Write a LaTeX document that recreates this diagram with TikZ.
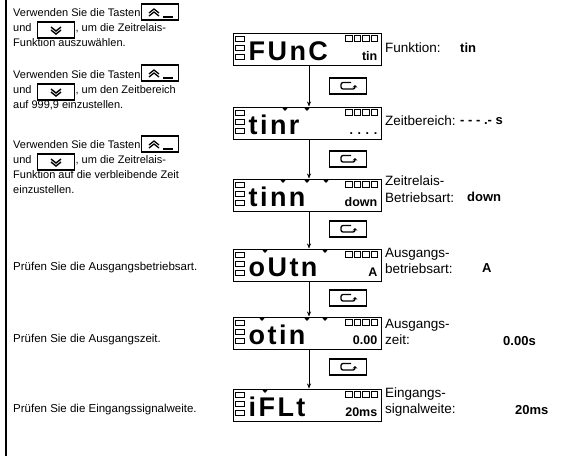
\documentclass[tikz,border=0pt]{standalone}
\usepackage{fontspec}
\setmainfont{Liberation Sans}
\usetikzlibrary{arrows.meta,positioning}

\tikzset{
  lcd/.style={draw,line width=1pt,minimum width=148pt,minimum height=32pt,inner sep=0pt},
  lcdbig/.style={font=\fontsize{27}{27}\selectfont\bfseries\addfontfeature{LetterSpace=9},inner sep=0pt,anchor=base west},
  lcdsmall/.style={font=\fontsize{12.5}{12.5}\selectfont\bfseries,inner sep=0pt,anchor=base east},
  keybox/.style={draw,fill=white,line width=1.2pt,minimum width=37pt,minimum height=16pt,inner sep=0pt},
  note/.style={anchor=north west,align=left,inner sep=0pt,font=\fontsize{11}{15}\selectfont},
  check/.style={anchor=west,inner sep=0pt,font=\fontsize{11.5}{15}\selectfont},
  readout/.style={anchor=west,align=left,inner sep=0pt,font=\fontsize{13.5}{16.5}\selectfont},
  setting/.style={anchor=west,inner sep=0pt,font=\fontsize{13}{13}\selectfont\bfseries},
  flow/.style={-{Stealth[length=5pt,width=4pt]},line width=0.6pt},
  upglyph/.pic={
    \draw[line width=1.3pt] (-11,1) -- (-6,-3) -- (-1,1);
    \draw[line width=1.3pt] (-11,4) -- (-6,0) -- (-1,4);
    \fill (3,3.5) rectangle (13,6);
  },
  downglyph/.pic={
    \draw[line width=1.4pt] (-5,-3) -- (0,1) -- (5,-3);
    \draw[line width=1.4pt] (-5,0) -- (0,4) -- (5,0);
  },
  loopglyph/.pic={
    \draw[line width=1.3pt,rounded corners=2pt,-{Stealth[length=2.5pt,width=4.5pt]}]
      (3,-3.5) -- (-7,-3.5) -- (-7,3) -- (7,3) -- (7,-1);
  },
}

\begin{document}
\begin{tikzpicture}[x=1pt,y=-1pt]
\useasboundingbox (0,0) rectangle (576,456);

\draw[line width=1.6pt] (6,0) -- (6,456);

% instructions on the left
\node[note] (n1) at (13,8) {Verwenden Sie die Tasten,\\und \hspace*{41pt}, um die Zeitrelais-\\Funktion auszuwählen.};
\node[note] (n2) at (13,70) {Verwenden Sie die Tasten,\\und \hspace*{41pt}, um den Zeitbereich\\auf 999,9 einzustellen.};
\node[note] (n3) at (13,140) {Verwenden Sie die Tasten,\\und \hspace*{41pt}, um die Zeitrelais-\\Funktion auf die verbleibende Zeit\\einzustellen.};
\node[check] (n4) at (13,268) {Prüfen Sie die Ausgangsbetriebsart.};
\node[check] (n5) at (13,340) {Prüfen Sie die Ausgangszeit.};
\node[check] (n6) at (13,410) {Prüfen Sie die Eingangssignalweite.};

% keys in the text
\foreach \yu/\yd in {12/30, 73/92, 144/162} {
  \node[keybox] at (160,\yu) {};
  \pic at (160,\yu) {upglyph};
  \node[keybox] at (56,\yd) {};
  \pic at (56,\yd) {downglyph};
}

% displays
\node[lcd] (d1) at (307,49) {};
\node[lcd] (d2) at (307,123) {};
\node[lcd] (d3) at (307,195) {};
\node[lcd] (d4) at (307,265) {};
\node[lcd] (d5) at (307,333) {};
\node[lcd] (d6) at (307,405) {};

\foreach \d in {d1,d2,d3,d4,d5,d6} {
  \foreach \k in {0,1,2}
    \draw[line width=0.6pt] ([shift={(3,4+\k*9)}]\d.north west) rectangle ++(9,5);
  \foreach \k in {0,1,2,3}
    \draw[line width=0.6pt] ([shift={(-36+\k*8.5,3)}]\d.north east) rectangle ++(6.5,6);
}

% marks on top of the digits
\foreach \x/\y in {285/107, 307/107, 283/179, 307/179, 326/179, 265/249, 325/249, 262/317, 307/317, 325/317, 265/389}
  \fill (\x-3.5,\y) -- (\x+3.5,\y) -- (\x,\y+4) -- cycle;

\node[lcdbig] (t1) at ([shift={(16,28)}]d1.north west) {FUnC};
\node[lcdsmall] (s1) at ([shift={(-4,28)}]d1.north east) {tin};
\node[lcdbig] (t2) at ([shift={(16,28)}]d2.north west) {tinr};
\node[lcdsmall] (s2) at ([shift={(-4,28)}]d2.north east) {. . . .};
\node[lcdbig] (t3) at ([shift={(16,28)}]d3.north west) {tinn};
\node[lcdsmall] (s3) at ([shift={(-4,28)}]d3.north east) {down};
\node[lcdbig] (t4) at ([shift={(16,28)}]d4.north west) {oUtn};
\node[lcdsmall] (s4) at ([shift={(-4,28)}]d4.north east) {A};
\node[lcdbig] (t5) at ([shift={(16,28)}]d5.north west) {otin};
\node[lcdsmall] (s5) at ([shift={(-4,28)}]d5.north east) {0.00};
\node[lcdbig] (t6) at ([shift={(16,28)}]d6.north west) {iFLt};
\node[lcdsmall] (s6) at ([shift={(-4,28)}]d6.north east) {20ms};

% mode key between the displays
\foreach \n/\y in {1/86, 2/159, 3/229, 4/298, 5/367} {
  \node[keybox] (b\n) at (348,\y) {};
  \pic at (b\n) {loopglyph};
}

\draw[flow] ([xshift=2pt]d1.south) -- ([xshift=2pt]d2.north);
\draw[flow] ([xshift=2pt]d2.south) -- ([xshift=2pt]d3.north);
\draw[flow] ([xshift=2pt]d3.south) -- ([xshift=2pt]d4.north);
\draw[flow] ([xshift=2pt]d4.south) -- ([xshift=2pt]d5.north);
\draw[flow] ([xshift=2pt]d5.south) -- ([xshift=2pt]d6.north);

% readouts on the right
\node[readout] (r1) at (385,48) {Funktion:};
\node[readout] (r2) at (385,121) {Zeitbereich:};
\node[readout] (r3) at (385,189) {Zeitrelais-\\Betriebsart:};
\node[readout] (r4) at (385,261) {Ausgangs-\\betriebsart:};
\node[readout] (r5) at (385,332) {Ausgangs-\\zeit:};
\node[readout] (r6) at (385,402) {Eingangs-\\signalweite:};

\node[setting] (v1) at (460,48) {tin};
\node[setting] (v2) at (460,121) {- - - .- s};
\node[setting] (v3) at (467,197) {down};
\node[setting] (v4) at (482,268) {A};
\node[setting] (v5) at (503,341) {0.00s};
\node[setting] (v6) at (515,410) {20ms};
\end{tikzpicture}
\end{document}
